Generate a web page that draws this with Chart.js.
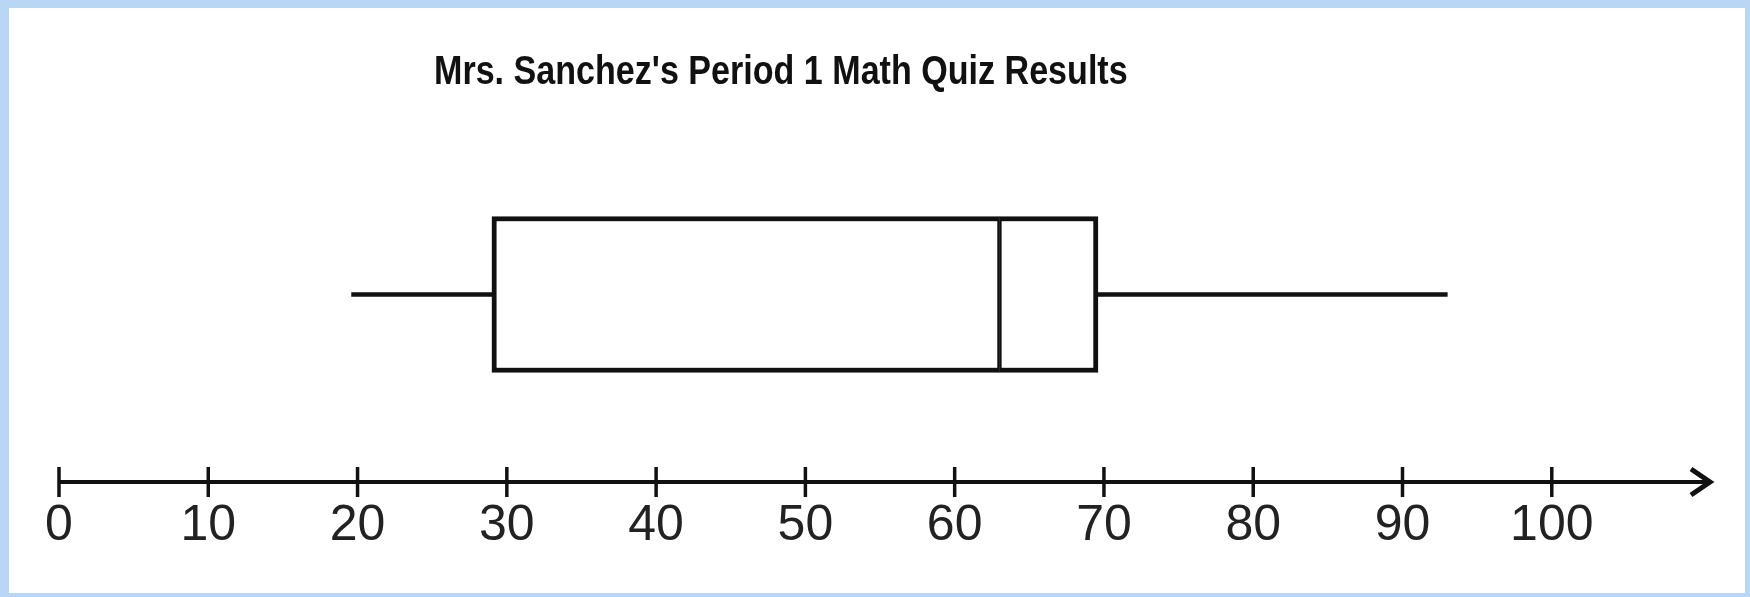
<!DOCTYPE html>
<html>
<head>
<meta charset="utf-8">
<script src="https://cdn.jsdelivr.net/npm/chart.js@4.4.1/dist/chart.umd.min.js"></script>
<style>
    html, body { margin: 0; padding: 0; width: 1750px; height: 597px; overflow: hidden; background: #b9d6f5; }
    #frame { position: absolute; left: 9px; top: 8px; width: 1736px; height: 585px; background: #ffffff; }
    #title {
        position: absolute; left: 425px; top: 42px; margin: 0;
        font-family: "Liberation Sans", Arial, sans-serif;
        font-weight: bold; font-size: 40px; line-height: 40px; color: #111;
        white-space: nowrap;
        transform: scaleX(0.852); transform-origin: left top;
    }
    canvas { position: absolute; left: 0; top: 0; }
</style>
</head>
<body>
<div id="frame">
    <canvas id="boxChart" width="1736" height="585"></canvas>
    <h1 id="title">Mrs. Sanchez's Period 1 Math Quiz Results</h1>
</div>
<script>
// five number summary
const groups = ['Period 1']
const minScore = [19.6]
const q1 = [29]
const median = [63]
const q3 = [69.6]
const maxScore = [93]
const tickValues = [0, 10, 20, 30, 40, 50, 60, 70, 80, 90, 100]
const axisEnd = 110.8

// number line: axis, tick marks on both sides and the arrow head
const numberLinePlugin = {
    id: 'numberLinePlugin',
    afterDraw(chart) {
        const { ctx, chartArea } = chart;
        const xs = chart.scales.x;
        const y = chartArea.bottom;
        const start = xs.getPixelForValue(tickValues[0]);
        const tip = xs.getPixelForValue(axisEnd);

        ctx.save();
        ctx.strokeStyle = '#111';
        ctx.lineWidth = 4;
        ctx.beginPath();
        ctx.moveTo(start, y);
        ctx.lineTo(tip - 4, y);
        ctx.stroke();

        ctx.lineWidth = 3.5;
        xs.ticks.forEach(t => {
            const px = xs.getPixelForValue(t.value);
            ctx.beginPath();
            ctx.moveTo(px, y - 15);
            ctx.lineTo(px, y + 15);
            ctx.stroke();
        });

        ctx.lineWidth = 5;
        ctx.lineJoin = 'miter';
        ctx.beginPath();
        ctx.moveTo(tip - 22, y - 13);
        ctx.lineTo(tip - 3, y);
        ctx.lineTo(tip - 22, y + 13);
        ctx.stroke();
        ctx.restore();
    }
};

const ctx = document.querySelector('#boxChart').getContext('2d');

new Chart(ctx, {
    type: 'bar',
    data: {
        labels: groups,
        datasets: [
            {
                label: 'Lower whisker',
                data: groups.map((g, i) => [minScore[i], q1[i]]),
                backgroundColor: '#111',
                borderWidth: 0,
                barThickness: 4,
                grouped: false
            },
            {
                label: 'Upper whisker',
                data: groups.map((g, i) => [q3[i], maxScore[i]]),
                backgroundColor: '#111',
                borderWidth: 0,
                barThickness: 4,
                grouped: false
            },
            {
                label: 'Q1 to median',
                data: groups.map((g, i) => [q1[i], median[i]]),
                backgroundColor: '#fff',
                borderColor: '#111',
                borderWidth: { top: 5, bottom: 5, left: 5, right: 2.5 },
                borderSkipped: false,
                barThickness: 156,
                grouped: false
            },
            {
                label: 'Median to Q3',
                data: groups.map((g, i) => [median[i], q3[i]]),
                backgroundColor: '#fff',
                borderColor: '#111',
                borderWidth: { top: 5, bottom: 5, left: 2.5, right: 5 },
                borderSkipped: false,
                barThickness: 156,
                grouped: false
            }
        ]
    },
    options: {
        indexAxis: 'y',
        responsive: false,
        animation: false,
        layout: { padding: { left: 50, right: 32, top: 99, bottom: 23 } },
        plugins: {
            legend: { display: false },
            tooltip: { enabled: false },
            title: { display: false }
        },
        scales: {
            x: {
                type: 'linear',
                min: 0,
                max: axisEnd,
                grid: { display: false, drawTicks: false },
                border: { display: false },
                afterBuildTicks: scale => {
                    scale.ticks = tickValues.map(v => ({ value: v }));
                },
                ticks: {
                    autoSkip: false,
                    maxRotation: 0,
                    padding: 14,
                    color: '#222',
                    font: { family: '"Liberation Sans", Arial, sans-serif', size: 50 }
                }
            },
            y: { display: false }
        }
    },
    plugins: [numberLinePlugin]
});
</script>
</body>
</html>
